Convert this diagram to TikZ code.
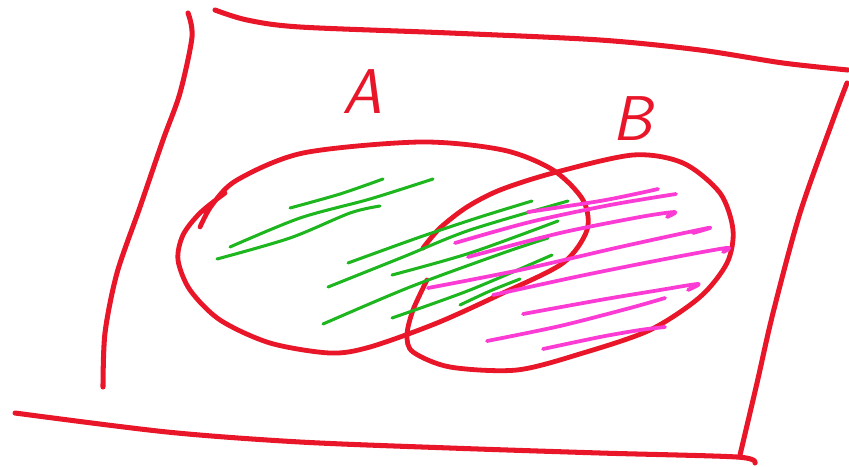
\documentclass[tikz,border=0pt]{standalone}
\usepackage{tikz}
\usetikzlibrary{calc,positioning}
\definecolor{rosso}{RGB}{232,22,40}
\definecolor{verde}{RGB}{30,182,30}
\definecolor{magenta}{RGB}{252,58,212}

\begin{document}
\begin{tikzpicture}[x=0.03cm, y=-0.03cm, line cap=round, line join=round,
    bordo/.style={rosso, line width=4.3pt},
    insieme/.style={rosso, line width=4.1pt},
    trattoA/.style={verde, line width=2.6pt},
    trattoB/.style={magenta, line width=3.2pt},
    lettera/.style={rosso, font=\fontsize{54}{54}\selectfont\sffamily\itshape}]
    \useasboundingbox (0,0) rectangle (849,466);

    % Universo
    \draw[bordo] plot[smooth] coordinates {(188,13) (192,37) (180,93) (163,140) (140,207) (117,273) (105,333) (103,387)};
    \draw[bordo] plot[smooth] coordinates {(215,10) (247,20) (300,27) (450,33) (600,40) (700,50) (783,63) (848,70)};
    \draw[bordo] plot[smooth] coordinates {(847,83) (833,120) (800,213) (773,313) (757,383) (740,455)};
    \draw[bordo] plot[smooth] coordinates {(15,413) (167,432) (300,442) (450,448) (600,453) (737,457) (755,463)};

    % Insieme A
    \draw[insieme] plot[smooth] coordinates {(200,227) (212,205) (237,180) (303,153) (420,142) (503,150) (553,170) (583,200) (587,230) (563,263) (503,293) (437,323) (370,347) (330,353) (270,343) (220,320) (190,290) (178,260) (183,235) (200,213) (225,193)};
    % Insieme B
    \draw[insieme] plot[smooth] coordinates {(427,280) (413,310) (407,335) (413,352) (450,367) (517,370) (583,353) (650,330) (700,297) (727,263) (733,230) (720,193) (683,163) (633,155) (553,173) (500,190) (467,207) (440,228) (423,248)};

    % Etichette
    \node[lettera] (labelA) at (362,92) {A};
    \node[lettera] (labelB) at (632,119) {B};

    % Tratteggio A
    \draw[trattoA] plot[smooth] coordinates {(290,208) (340,194) (383,179)};
    \draw[trattoA] plot[smooth] coordinates {(230,247) (300,218) (370,199) (433,179)};
    \draw[trattoA] plot[smooth] coordinates {(217,259) (290,238) (350,213) (380,206)};
    \draw[trattoA] plot[smooth] coordinates {(348,263) (420,237) (480,217) (532,201)};
    \draw[trattoA] plot[smooth] coordinates {(328,287) (403,257) (470,230) (568,201)};
    \draw[trattoA] plot[smooth] coordinates {(392,275) (470,253) (558,221)};
    \draw[trattoA] plot[smooth] coordinates {(323,324) (410,287) (503,253) (548,238)};
    \draw[trattoA] plot[smooth] coordinates {(392,318) (470,290) (552,255)};
    \draw[trattoA] plot[smooth] coordinates {(460,305) (490,291) (520,279)};

    % Tratteggio B
    \draw[trattoB] plot[smooth] coordinates {(528,212) (600,201) (640,193) (658,189)};
    \draw[trattoB] plot[smooth] coordinates {(455,243) (530,222) (610,205) (676,194)};
    \draw[trattoB] plot[smooth] coordinates {(468,257) (560,233) (640,217) (675,212) (667,217)};
    \draw[trattoB] plot[smooth] coordinates {(428,288) (520,270) (620,247) (708,228) (693,233)};
    \draw[trattoB] plot[smooth] coordinates {(493,295) (580,276) (660,260) (726,248) (723,252)};
    \draw[trattoB] plot[smooth] coordinates {(523,314) (600,300) (660,290) (698,284) (688,290)};
    \draw[trattoB] plot[smooth] coordinates {(487,341) (560,326) (630,308) (665,298)};
    \draw[trattoB] plot[smooth] coordinates {(543,349) (600,337) (640,330) (665,327)};
\end{tikzpicture}
\end{document}
